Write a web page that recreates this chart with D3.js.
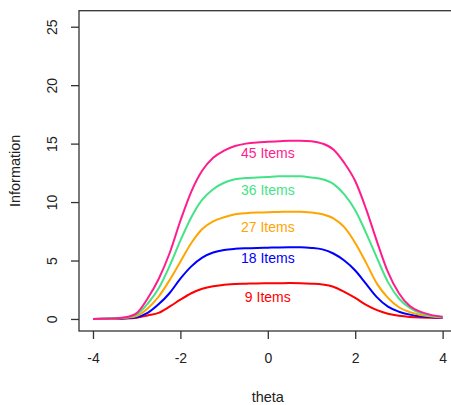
<!DOCTYPE html>
<html>
<head>
<meta charset="utf-8">
<script src="https://cdn.jsdelivr.net/npm/d3@7"></script>
<style>
  html, body { margin: 0; padding: 0; background: #fff; }
  svg { display: block; font-family: "Liberation Sans", Arial, sans-serif; }
</style>
</head>
<body>
<script>
const theta = [-4,-3.75,-3.5,-3.25,-3,-2.75,-2.5,-2.25,-2,-1.75,-1.5,-1.25,-1,-0.75,-0.5,-0.25,0,0.25,0.5,0.75,1,1.25,1.5,1.75,2,2.25,2.5,2.75,3,3.25,3.5,3.75,4];
const info45 = [0,0.02,0.05,0.14,0.5,1.75,3.4,5.6,8.4,10.9,12.7,13.8,14.4,14.8,15.0,15.1,15.15,15.2,15.25,15.25,15.2,15.0,14.5,13.35,11.8,9.4,6.6,4.0,2.2,1.1,0.6,0.33,0.18];
const info36 = [0,0.02,0.05,0.12,0.38,1.3,2.6,4.5,6.7,8.7,10.2,11.1,11.65,11.95,12.05,12.1,12.15,12.2,12.2,12.2,12.1,11.95,11.55,10.65,9.3,7.35,5.2,3.15,1.75,0.95,0.5,0.28,0.15];
const info27 = [0,0.01,0.04,0.1,0.25,0.9,1.9,3.3,4.9,6.5,7.7,8.35,8.7,8.95,9.05,9.1,9.12,9.15,9.18,9.18,9.1,8.95,8.6,7.85,6.5,4.8,3.0,1.8,1.0,0.58,0.34,0.2,0.12];
const info18 = [0,0.01,0.03,0.07,0.15,0.52,1.25,2.2,3.45,4.5,5.25,5.68,5.9,6.0,6.05,6.08,6.1,6.12,6.13,6.13,6.08,5.95,5.6,5.0,4.15,3.0,1.85,1.05,0.62,0.37,0.22,0.15,0.1];
const info9 = [0,0,0.01,0.03,0.1,0.3,0.52,1.05,1.65,2.2,2.58,2.8,2.92,3.0,3.02,3.04,3.05,3.06,3.07,3.06,3.02,2.95,2.76,2.32,1.8,1.2,0.75,0.45,0.27,0.17,0.12,0.1,0.08];
const seriesNames = ["9 Items","18 Items","27 Items","36 Items","45 Items"];
const seriesValues = [info9, info18, info27, info36, info45];
const seriesColors = ["#FF0000","#0000FF","#FFA500","#44E486","#FF1C8D"];
const labelX = [0,0,0,0,0];
const labelY = [1.92,5.2,7.85,11.0,14.2];
const xTicks = [-4,-2,0,2,4];
const yTicks = [0,5,10,15,20,25];

const W = 451, H = 405;
const svg = d3.select("body").append("svg").attr("width", W).attr("height", H);

const x = d3.scaleLinear().domain([-4.32, 4.32]).range([79, 456.6]);
const y = d3.scaleLinear().domain([-1.03, 26.37]).range([331, 10.7]);

const line = d3.line().x(d => x(d[0])).y(d => y(d[1])).curve(d3.curveMonotoneX);

seriesValues.forEach((vals, i) => {
  svg.append("path")
    .datum(theta.map((t, j) => [t, vals[j]]))
    .attr("d", line)
    .attr("fill", "none")
    .attr("stroke", seriesColors[i])
    .attr("stroke-width", 2)
    .attr("stroke-linejoin", "round");
  svg.append("text")
    .attr("x", x(labelX[i]))
    .attr("y", y(labelY[i]))
    .attr("text-anchor", "middle")
    .attr("dominant-baseline", "central")
    .attr("font-size", 14)
    .attr("fill", seriesColors[i])
    .text(seriesNames[i]);
});

// box
svg.append("rect")
  .attr("x", x.range()[0]).attr("y", y.range()[1])
  .attr("width", x.range()[1] - x.range()[0])
  .attr("height", y.range()[0] - y.range()[1])
  .attr("fill", "none").attr("stroke", "#333").attr("stroke-width", 1.3);

// x axis
const xAxis = svg.append("g").attr("transform", `translate(0,${y.range()[0]})`)
  .call(d3.axisBottom(x).tickValues(xTicks).tickSize(8).tickPadding(14)
    .tickFormat(d => d < 0 ? "-" + Math.abs(d) : d));
xAxis.select(".domain").remove();
xAxis.selectAll("line").attr("stroke", "#333").attr("stroke-width", 1.3);
xAxis.selectAll("text").attr("font-size", 14).attr("fill", "#222")
  .attr("font-family", "Liberation Sans, Arial, sans-serif");

// y axis
const yAxis = svg.append("g").attr("transform", `translate(${x.range()[0]},0)`)
  .call(d3.axisLeft(y).tickValues(yTicks).tickSize(8).tickFormat(d => d));
yAxis.select(".domain").remove();
yAxis.selectAll("line").attr("stroke", "#333").attr("stroke-width", 1.3);
yAxis.selectAll("text").remove();
yAxis.selectAll(".tick").append("text")
  .attr("transform", "translate(-27,0) rotate(-90)")
  .attr("text-anchor", "middle")
  .attr("dominant-baseline", "central")
  .attr("font-size", 14).attr("fill", "#222")
  .attr("font-family", "Liberation Sans, Arial, sans-serif")
  .text(d => d);

// titles
svg.append("text")
  .attr("x", (x.range()[0] + x.range()[1]) / 2)
  .attr("y", 397)
  .attr("text-anchor", "middle").attr("dominant-baseline", "central")
  .attr("font-size", 14.5).attr("fill", "#222")
  .text("theta");
svg.append("text")
  .attr("transform", `translate(15,${(y.range()[0] + y.range()[1]) / 2}) rotate(-90)`)
  .attr("text-anchor", "middle").attr("dominant-baseline", "central")
  .attr("font-size", 14.5).attr("fill", "#222")
  .text("Information");
</script>
</body>
</html>
